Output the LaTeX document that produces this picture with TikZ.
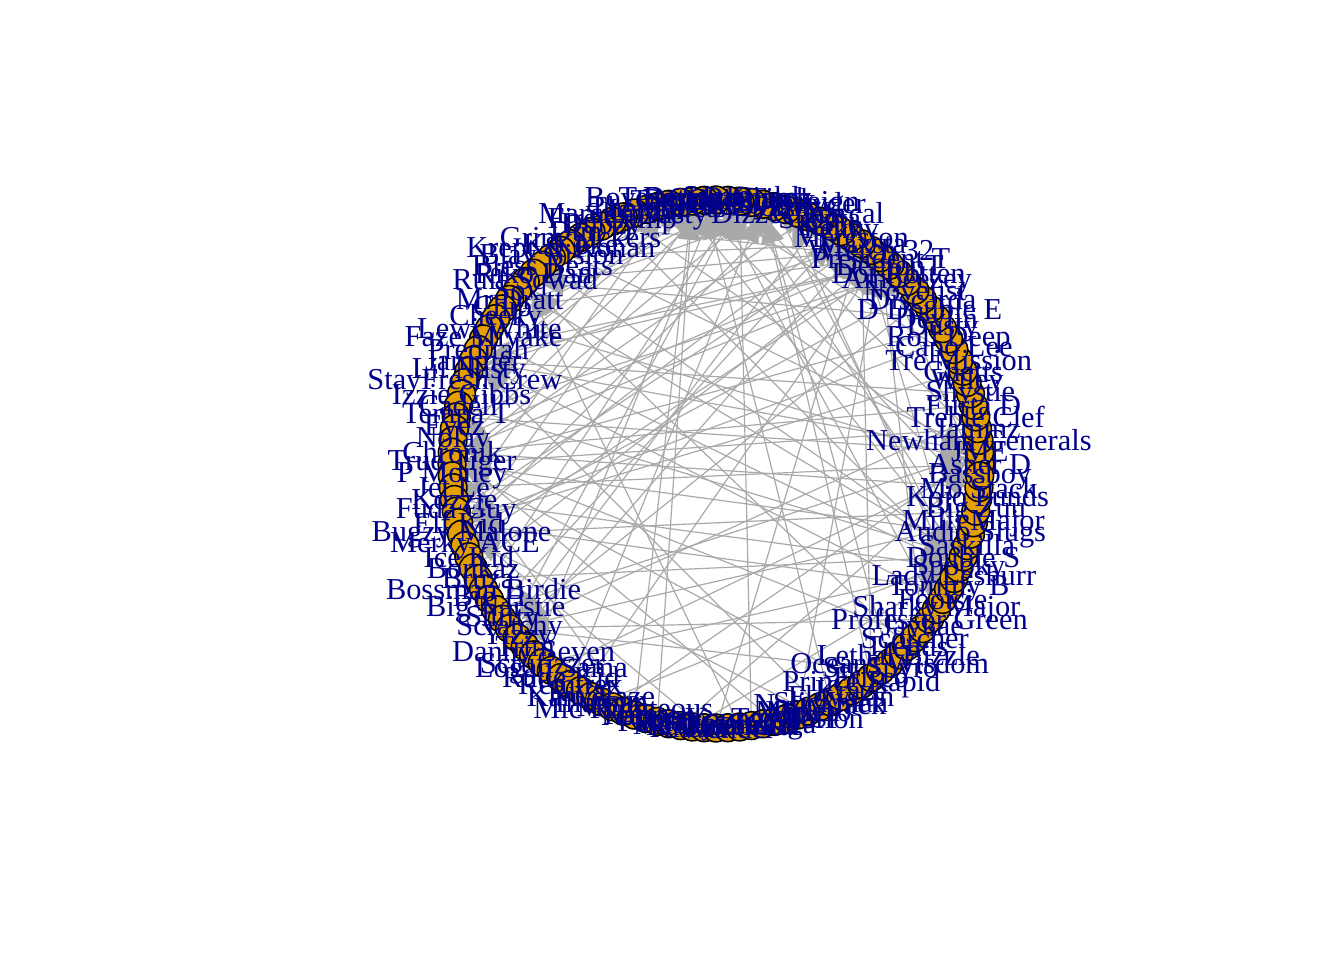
\documentclass[tikz,border=0pt]{standalone}
\usepackage{fontspec}
\setmainfont{Liberation Serif}
\usetikzlibrary{arrows.meta}

\definecolor{vorange}{HTML}{E69F00}
\definecolor{egrey}{HTML}{A9A9A9}
\definecolor{lblue}{HTML}{00008B}

\pgfdeclarelayer{bg}
\pgfdeclarelayer{fg}
\pgfsetlayers{bg,main,fg}

\tikzset{
  vtx/.style={circle, draw=black, line width=0.6pt, fill=vorange, minimum size=10.4pt, inner sep=0pt},
  lbl/.style={text=lblue, font=\fontsize{11.4}{12}\selectfont, inner sep=0pt},
  edge/.style={egrey, line width=0.45pt, -{Triangle[length=9pt, width=8pt]}}
}

\begin{document}
\begin{tikzpicture}[x=0.375pt, y=-0.375pt]

	\useasboundingbox (0,0) rectangle (1344,960);

	% vertices on the circle, labels on top
	\foreach \nm [count=\i from 0] in {Asher D, JME, Newham Generals, Jammz, Treble Clef, Flirta D, Shystie, Wiley, Ghetts, Tre Mission,
		Capo Lee, Roll Deep, Dusty, Devlin, D Double E, Discarda, Novelist, Ambeezey, Dot Rotten, DemonT,
		President T, Wretch 32, Maxsta, Mercston, Fekky, Kano, Skepta, Giggs, Dizzee Rascal, Stormzy,
		Tinchy Stryder, Lady Sovereign, Chipmunk, Crazy Titch, Durrty Goodz, Sway, Terror Danjah, Boy Better Know, Bashy, Target,
		The Streets, Jendor, Slimzee, Marcus Nasty, Fire Camp, Dubzy, Dun D, Grim Sickers, K Koke, Krept \& Konan,
		Blay Vision, Bless Beats, Riko Dan, Ruff Sqwad, Sox, Mr Dratt, Chip, Cheeky, Lewi White, Faze Miyake,
		Preditah, Jammer, Lil Nasty, StayFresh Crew, Izzie Gibbs, Cadell, Tempa T, Eyez, Nolay, Chronik,
		True Tiger, P Money, Jet Le, Kozzie, Fuda Guy, Elf Kid, Bugzy Malone, Merky ACE, Ice Kid, Bonkaz,
		Bruza, Bossman Birdie, Big H, Big Narstie, Shifty, Scratchy, Yizzy, Trim, Danny Seven, Scrufizzer,
		Logan Sama, Rude Kid, Remtrex, Rival, Kamakaze, Illaman, MDK, Mic Righteous, Teeza, Napper,
		Fumin, Ratty, Rawz, Killa P, Cas, Ms Dynamite, Wonder, Hitman Tiga, Gemstar, Stush,
		Youngs Teflon, Toddla T, Manga, Mak10, Nasty Jack, Slickman, Flowdan, Kraze, Prince Rapid, Frisco,
		Sir Spyro, Oceans Wisdom, Lethal Bizzle, Trends, Scorcher, Jaykae, Professor Green, Sharky Major, Footsie, Tommy B,
		Lady Leshurr, Spooky, Double S, Saskilla, Audio Slugs, Milli Major, Big Zuu, Kojo Funds, Mo Stack, Bassboy}
	{
		\node[vtx] (v\i) at ({716+264*cos(\i*18/7)},{464-264*sin(\i*18/7)}) {};
		\begin{pgfonlayer}{fg}
			\node[lbl] at (v\i) {\nm};
		\end{pgfonlayer}
	}

	% directed edges, behind the vertices
	\begin{pgfonlayer}{bg}
	\foreach \a/\b in {2/33, 9/36, 14/31, 47/35, 58/33, 63/37, 70/31, 76/36, 81/33, 88/35,
		92/31, 100/37, 108/33, 115/36, 121/31, 127/35, 133/33, 137/37, 64/36, 52/35,
		119/31, 98/37, 85/33, 69/35, 56/29, 74/39, 130/29,
		45/20, 50/22, 56/20, 62/22, 68/20, 74/22, 79/20, 86/22, 93/20, 105/22,
		112/20, 119/22, 125/20, 131/22, 139/20, 60/19, 77/19, 66/18, 83/24,
		5/69, 12/70, 18/69, 27/70, 40/69, 98/70, 110/69, 118/70, 124/69, 134/70, 138/69, 3/70,
		8/75, 16/76, 24/75, 29/76, 104/75, 113/76, 129/75, 136/76, 11/75,
		4/85, 15/85, 26/85, 120/85, 126/85, 135/85,
		43/0, 49/1, 57/0, 66/1, 72/0, 83/1, 90/0, 96/1, 102/0, 61/1,
		30/131, 38/132, 44/131, 51/132, 59/131, 65/132, 73/131, 80/132, 89/131, 95/132, 103/131, 54/132,
		13/53, 21/53, 107/53, 123/53,
		6/61, 19/61, 114/61, 128/61}
		\draw[edge] (v\a) -- (v\b);
	\end{pgfonlayer}

\end{tikzpicture}
\end{document}
